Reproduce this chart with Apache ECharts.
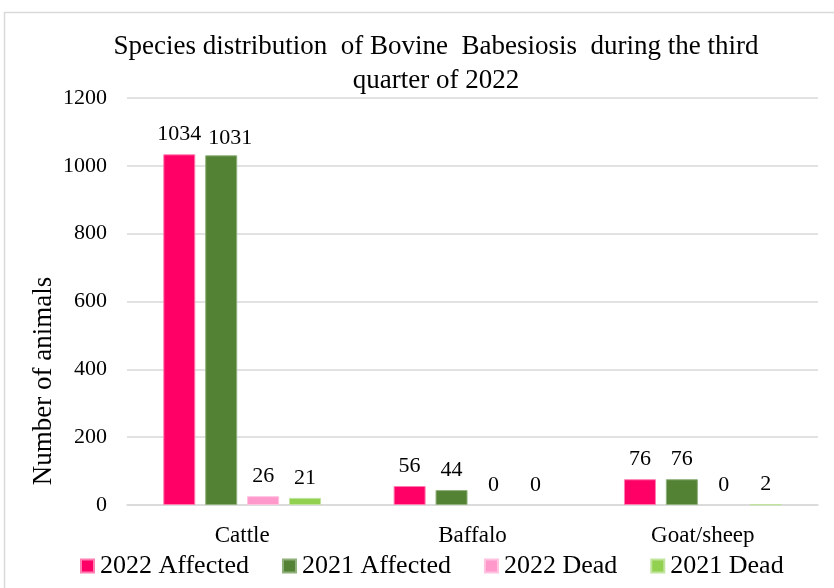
<!DOCTYPE html>
<html>
<head>
<meta charset="utf-8">
<script src="https://cdn.jsdelivr.net/npm/echarts@6/dist/echarts.min.js"></script>
<style>
  html, body { margin: 0; padding: 0; background: #fff; }
  #chart { width: 834px; height: 588px; }
</style>
</head>
<body>
<div id="chart"></div>
<script>
// Species and yearly counts of Bovine Babesiosis cases
const categories = ['Cattle', 'Baffalo', 'Goat/sheep'];
const affected2022 = [1034, 56, 76];
const affected2021 = [1031, 44, 76];
const dead2022 = [26, 0, 0];
const dead2021 = [21, 0, 2];
const yTicks = { min: 0, max: 1200, interval: 200 };

const serif = '"Liberation Serif", "Times New Roman", serif';

// zero counts get no outline so they leave no sliver on the baseline
function toItems(data) {
  return data.map(v => (v === 0 ? { value: v, itemStyle: { borderWidth: 0 } } : v));
}

function barSeries(name, data, color, border, extra) {
  return Object.assign({
    name: name,
    type: 'bar',
    data: toItems(data),
    barWidth: 32,
    barGap: '31%',
    itemStyle: { color: color, borderColor: border, borderWidth: 1 },
    label: {
      show: true,
      position: 'top',
      distance: 9,
      color: '#000',
      fontFamily: serif,
      fontSize: 22
    }
  }, extra || {});
}

const chart = echarts.init(document.getElementById('chart'));
chart.setOption({
  animation: false,
  backgroundColor: '#fff',
  title: {
    text: 'Species distribution  of Bovine  Babesiosis  during the third\nquarter of 2022',
    left: 431,
    textAlign: 'center',
    top: 25,
    textStyle: {
      fontFamily: serif,
      fontWeight: 'normal',
      fontSize: 27,
      lineHeight: 34,
      color: '#000'
    }
  },
  legend: {
    top: 553,
    left: 80,
    padding: 0,
    itemWidth: 13,
    itemHeight: 13,
    itemGap: 33,
    icon: 'rect',
    textStyle: { fontFamily: serif, fontSize: 26, color: '#000', padding: [0, 0, 0, 1] }
  },
  grid: { left: 127, right: 16, top: 98, bottom: 83, containLabel: false },
  xAxis: {
    type: 'category',
    data: categories,
    axisLine: { lineStyle: { color: '#d9d9d9', width: 1.5 } },
    axisTick: { show: false },
    axisLabel: { margin: 19, color: '#000', fontFamily: serif, fontSize: 23 }
  },
  yAxis: {
    type: 'value',
    min: yTicks.min,
    max: yTicks.max,
    interval: yTicks.interval,
    axisLine: { show: false },
    axisTick: { show: false },
    splitLine: { lineStyle: { color: '#d9d9d9', width: 1.5 } },
    axisLabel: {
      margin: 20,
      color: '#000',
      fontFamily: serif,
      fontSize: 22,
      formatter: v => String(v)
    }
  },
  graphic: [
    {
      type: 'rect',
      shape: { x: 4.5, y: 12.5, width: 900, height: 700 },
      style: { fill: 'none', stroke: '#d9d9d9', lineWidth: 1.5 },
      silent: true
    },
    {
      type: 'text',
      x: 44,
      y: 381,
      rotation: Math.PI / 2,
      style: {
        text: 'Number of animals',
        fontFamily: serif,
        fontSize: 27,
        fill: '#000',
        textAlign: 'center',
        textVerticalAlign: 'middle'
      }
    }
  ],
  series: [
    barSeries('2022 Affected', affected2022, '#ff0066', '#ff7fb2'),
    // the tall Cattle label is nudged right so it clears its neighbour
    barSeries('2021 Affected', affected2021, '#548235', '#8fb07a', {
      labelLayout: p => (p.dataIndex === 0 ? { dx: 9, dy: 3 } : {})
    }),
    barSeries('2022 Dead', dead2022, '#ff99cc', '#ffc2e0'),
    barSeries('2021 Dead', dead2021, '#92d050', '#c0e49c')
  ]
});
</script>
</body>
</html>
